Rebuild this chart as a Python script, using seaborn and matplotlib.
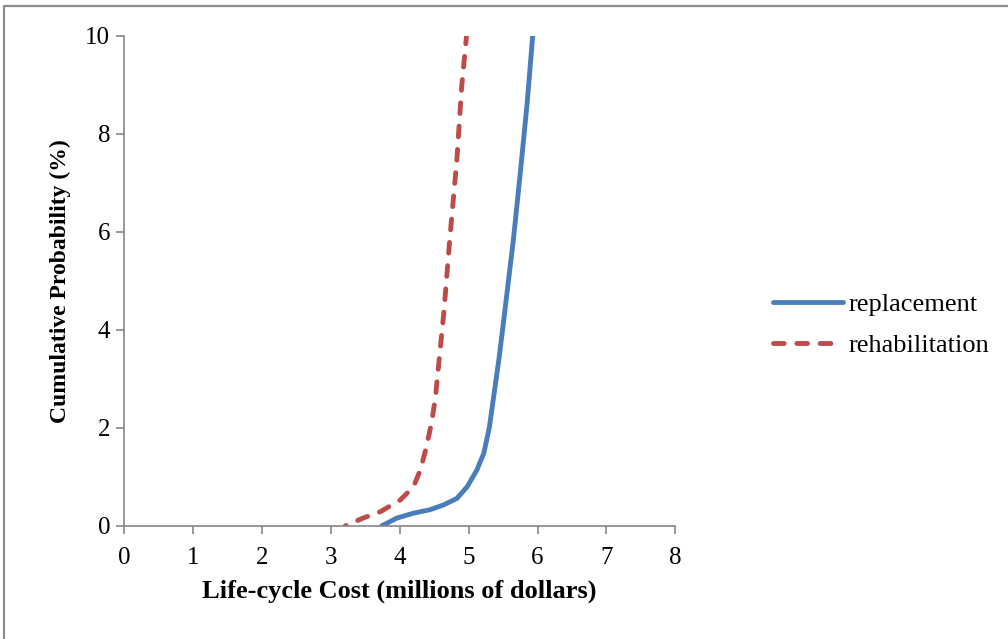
import matplotlib
matplotlib.use("Agg")
import matplotlib.pyplot as plt
import seaborn as sns
import pandas as pd
from matplotlib.lines import Line2D

# values (cost in millions, probability in %)
replacement_cost = [3.74, 3.96, 4.20, 4.44, 4.64, 4.83, 4.98, 5.12, 5.22, 5.30, 5.37,
                    5.44, 5.51, 5.65, 5.75, 5.85, 5.93]
replacement_prob = [0.0, 0.16, 0.26, 0.33, 0.43, 0.56, 0.80, 1.14, 1.48, 2.00, 2.70,
                    3.40, 4.20, 5.84, 7.20, 8.63, 10.0]
rehab_cost = [3.21, 3.47, 3.72, 4.01, 4.20, 4.30, 4.39, 4.47, 4.52, 4.64, 4.73,
              4.83, 4.90, 4.97]
rehab_prob = [0.0, 0.16, 0.29, 0.53, 0.80, 1.14, 1.62, 2.16, 2.64, 4.34, 5.90,
              7.47, 8.97, 10.0]

df = pd.concat([
    pd.DataFrame({"cost": replacement_cost, "prob": replacement_prob, "option": "replacement"}),
    pd.DataFrame({"cost": rehab_cost, "prob": rehab_prob, "option": "rehabilitation"}),
])

sns.set_style("white")
plt.rcParams["font.family"] = ["Liberation Serif", "DejaVu Serif"]
plt.rcParams["text.color"] = "black"
plt.rcParams["axes.labelcolor"] = "black"
plt.rcParams["xtick.labelcolor"] = "black"
plt.rcParams["ytick.labelcolor"] = "black"

fig = plt.figure(figsize=(10.08, 6.39), dpi=100)
ax = fig.add_axes([0.123, 0.177, 0.547, 0.767])

sns.lineplot(data=df, x="cost", y="prob", hue="option", style="option", sort=False,
             palette={"replacement": "#4A7EBB", "rehabilitation": "#BE4B48"},
             dashes={"replacement": "", "rehabilitation": (2.2, 2.6)},
             linewidth=3.5, ax=ax)
for line in ax.lines:
    line.set_dash_capstyle("round")
    line.set_solid_capstyle("round")
    line.set_solid_joinstyle("round")
    line.set_dash_joinstyle("round")
# shift the dash pattern so the red curve ends on a dash at the top
ax.lines[1].set_linestyle((2.0, (2.2, 2.6)))

ax.set_xlim(0, 8)
ax.set_ylim(0, 10)
ax.set_xticks(range(0, 9))
ax.set_yticks(range(0, 11, 2))
ax.tick_params(axis="both", labelsize=18, length=6, width=1.2, color="#868686",
               direction="out", left=True, bottom=True, labelcolor="black")
ax.tick_params(axis="x", pad=9)
ax.tick_params(axis="y", pad=4)
for side in ["top", "right"]:
    ax.spines[side].set_visible(False)
for side in ["left", "bottom"]:
    ax.spines[side].set_color("#868686")
    ax.spines[side].set_linewidth(1.2)

ax.set_xlabel("Life-cycle Cost (millions of dollars)", fontsize=19, fontweight="bold",
              labelpad=8, color="black")
ax.set_ylabel("Cumulative Probability (%)", fontsize=17, fontweight="bold",
              labelpad=10, color="black")

handles, labels = ax.get_legend_handles_labels()
leg = ax.legend(handles, labels, loc="center left", bbox_to_anchor=(773 / 1008, 1 - 325 / 639),
                bbox_transform=fig.transFigure, frameon=False, fontsize=19,
                handlelength=2.65, handletextpad=0.2, labelspacing=0.65,
                borderpad=0, borderaxespad=0)
for h in leg.get_lines():
    h.set_linewidth(3.5)
for t in leg.get_texts():
    t.set_color("black")

# outer frame (left and top edges only are visible in the reference)
fig.lines.append(Line2D([0.0035, 0.0035, 1.0], [0.0, 0.990, 0.990], transform=fig.transFigure,
                        color="#8c8c8c", linewidth=1.6))

fig.savefig("out.png", dpi=100)
